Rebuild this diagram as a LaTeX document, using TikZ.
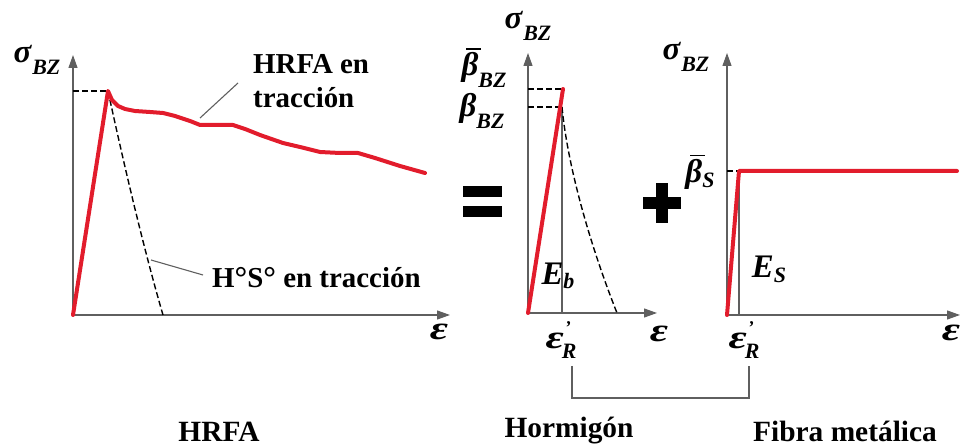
\documentclass[tikz,border=0pt]{standalone}
\usepackage{fontspec}
\setmainfont{Liberation Serif}
\usetikzlibrary{arrows.meta}
\definecolor{cred}{RGB}{226,28,44}
\definecolor{axgray}{RGB}{95,95,95}
\newcommand\Sub[2][12bp]{\raisebox{-#1}{\fontsize{22}{22}\selectfont #2}}
\newcommand\Sig{σ\kern1bp\Sub{BZ}}
\newcommand\Ep{\scalebox{1.35}[1]{ε}}
\newcommand\obar[1]{\rlap{\kern0.14em\raisebox{0.8em}{\rule{0.45em}{1.6bp}}}#1}
\newcommand\Eps{\Ep\kern1bp\rlap{\raisebox{15bp}{\fontsize{18}{18}\selectfont '}}\kern-3bp\Sub[10bp]{R}}
\newcommand\dg{\raisebox{-1bp}{\scalebox{1.1}{°}}}
\begin{document}
\begin{tikzpicture}[x=1bp,y=-1bp,
  axis/.style={draw=axgray, line width=1.2bp, -{Triangle[length=13bp,width=9bp]}},
  thinline/.style={draw=axgray, line width=1.1bp},
  dashline/.style={draw=black, line width=1.4bp, dash pattern=on 6bp off 3bp},
  redline/.style={draw=cred, line width=4bp, line join=round, line cap=round},
  mth/.style={font=\fontsize{33}{33}\selectfont\bfseries\itshape, inner sep=0pt},
  txt/.style={font=\fontsize{29}{30}\selectfont\bfseries, inner sep=0pt},
  captext/.style={font=\fontsize{29.5}{30}\selectfont\bfseries, inner sep=0pt}]
\useasboundingbox (0,0) rectangle (962,448);
% ---------- left chart ----------
\coordinate (O1) at (73,315);
\coordinate (Y1) at (73,55);
\coordinate (X1) at (450,315);
\coordinate (P1) at (108,91);
\coordinate (D1) at (163,315);
\draw[axis] (O1) -- (Y1);
\draw[axis] (O1) -- (X1);
\draw[dashline] (O1 |- P1) -- (P1);
\draw[dashline] (P1) .. controls (124,165) and (144,250) .. (D1);
\draw[redline] (O1) -- (P1) -- (112,100) -- (118,106) -- (125,109) -- (135,111) -- (150,112)
  -- (163,113) -- (175,116) -- (190,121) -- (200,125) -- (215,125) -- (233,125) -- (245,129)
  -- (260,135) -- (283,143) -- (300,147) -- (320,152) -- (340,153) -- (358,153) -- (375,158)
  -- (400,166) -- (425,173);
\node[mth] (s1) at (37,60) {\Sig};
\node[mth] (e1) at (439,332) {\Ep};
\node[txt, anchor=west] (h1) at (253,64) {HRFA en};
\node[txt, anchor=west] (h2) at (253,98) {tracción};
\node[txt, anchor=west] (hs) at (212,278) {H\dg S\dg\ en tracción};
\coordinate (c1) at (200,118);
\coordinate (c1e) at (238,83);
\coordinate (c2) at (151,260);
\coordinate (c2e) at (203,275);
\draw[thinline] (c1) -- (c1e);
\draw[thinline] (c2) -- (c2e);
% ---------- middle chart ----------
\coordinate (O2) at (528,313);
\coordinate (Y2) at (528,53);
\coordinate (X2) at (657,313);
\coordinate (P2) at (563,89);
\coordinate (Q2) at (562,107);
\coordinate (D2) at (617,313);
\draw[axis] (O2) -- (Y2);
\draw[axis] (O2) -- (X2);
\draw[dashline] (O2 |- P2) -- (P2);
\draw[dashline] (O2 |- Q2) -- (Q2);
\draw[thinline] (Q2) -- (Q2 |- O2);
\draw[dashline] (Q2) .. controls (568,170) and (592,250) .. (D2);
\draw[redline] (O2) -- (P2);
\node[mth] (s2) at (528,26) {\Sig};
\node[mth] (bb) at (484,68) {\obar{β}\Sub{BZ}};
\node[mth] (b) at (482,111) {β\Sub{BZ}};
\node[mth] (eb) at (558,276) {E\Sub[4bp]{b}};
\node[mth] (er1) at (561,340) {\Eps};
\node[mth] (e2) at (659,334) {\Ep};
% ---------- right chart ----------
\coordinate (O3) at (727,315);
\coordinate (Y3) at (727,53);
\coordinate (X3) at (960,315);
\coordinate (P3) at (739,171);
\coordinate (E3) at (957,171);
\draw[axis] (O3) -- (Y3);
\draw[axis] (O3) -- (X3);
\draw[dashline] (O3 |- P3) -- (P3);
\draw[thinline] (P3) -- (P3 |- O3);
\draw[redline] (O3) -- (P3) -- (E3);
\node[mth] (s3) at (686,57) {\Sig};
\node[mth] (bs) at (700,172) {\obar{β}\Sub[5bp]{S}};
\node[mth] (es) at (769,269) {E\Sub[5bp]{S}};
\node[mth] (er2) at (744,340) {\Eps};
\node[mth] (e3) at (951,333) {\Ep};
% ---------- equals and plus ----------
\fill (463,186) rectangle (502,197);
\fill (463,206) rectangle (502,217);
\fill (643,197) rectangle (681,209);
\fill (656,183) rectangle (668,223);
% ---------- bracket ----------
\coordinate (brk) at (0,398);
\coordinate (ba) at (572,366);
\coordinate (bz) at (749,366);
\draw[thinline] (ba) -- (ba |- brk) -| (bz);
% ---------- captions ----------
\node[captext] (l1) at (219,432) {HRFA};
\node[captext] (l2) at (569,431) {Hormigón};
\node[captext] (l3) at (845,431) {Fibra metálica};
\end{tikzpicture}
\end{document}
